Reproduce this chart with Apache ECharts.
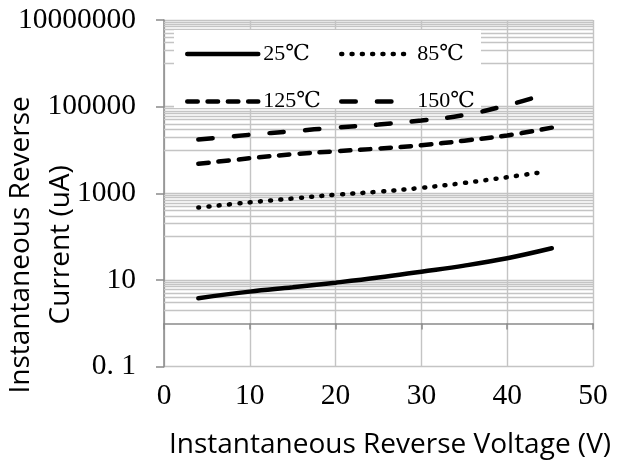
<!DOCTYPE html>
<html>
<head>
<meta charset="utf-8">
<script src="https://cdn.jsdelivr.net/npm/echarts@6/dist/echarts.min.js"></script>
<style>html,body{margin:0;padding:0;background:#fff}#c{width:622px;height:462px}</style>
</head>
<body>
<div id="c"></div>
<script>
const seriesNames = ['25℃', '85℃', '125℃', '150℃'];
const voltage25 = [4, 10, 15, 20, 25, 30, 35, 40, 45.2];
const current25 = [3.8, 5.4, 6.8, 8.7, 11.4, 15.6, 21.5, 31.8, 54];
const voltage85 = [4, 10, 15, 20, 25, 30, 35, 40, 44.5];
const current85 = [470, 620, 760, 930, 1090, 1340, 1740, 2360, 3160];
const voltage125 = [4, 10, 15, 20, 25, 30, 35, 40, 45.2];
const current125 = [4800, 6450, 8000, 9350, 10800, 12900, 16400, 21700, 32800];
const voltage150 = [4, 10, 15, 20, 25, 30, 35, 40, 43.2];
const current150 = [17500, 22500, 27100, 33000, 38800, 48000, 64000, 108000, 163000];
const xTicks = [0, 10, 20, 30, 40, 50];
const yMajorTicks = [0.1, 10, 1000, 100000, 10000000];
const yMinorGrid = [2, 3, 4, 5, 6, 7, 8, 9,
  100, 200, 300, 400, 500, 600, 700, 800, 900,
  10000, 20000, 30000, 40000, 50000, 60000, 70000, 80000, 90000,
  1000000, 2000000, 3000000, 4000000, 5000000, 6000000, 7000000, 8000000, 9000000];

function pairs(xs, ys) { return xs.map((x, i) => [x, ys[i]]); }

const SERIF = '"Liberation Serif", "DejaVu Serif", "Noto Sans CJK JP", serif';
const SANS = '"Open Sans", "Noto Sans", sans-serif';
const GRID = '#c4c4c4';
const legendCommon = {
  orient: 'vertical', top: 43, padding: 0, itemWidth: 71, itemHeight: 14, itemGap: 25.5,
  itemStyle: {color: 'rgba(0,0,0,0)', borderColor: 'rgba(0,0,0,0)', borderWidth: 0, opacity: 0},
  lineStyle: {width: 4.5},
  textStyle: {fontFamily: SERIF, fontSize: 22, color: '#000'}
};

const chart = echarts.init(document.getElementById('c'), null, {renderer: 'canvas'});
chart.setOption({
  animation: false,
  backgroundColor: '#fff',
  grid: [
    {left: 164, right: 29, top: 20, bottom: 95.3, outerBoundsMode: 'none', containLabel: false},
    {left: 164, right: 29, top: 20, bottom: 138.6, outerBoundsMode: 'none', containLabel: false}
  ],
  xAxis: [{
    type: 'value', gridIndex: 0, min: xTicks[0], max: xTicks[xTicks.length - 1], interval: 10,
    axisLine: {show: false}, axisTick: {show: false},
    axisLabel: {fontFamily: SERIF, fontSize: 29.5, color: '#000', margin: 15},
    splitLine: {show: true, lineStyle: {color: GRID, width: 1.4}},
    name: 'Instantaneous Reverse Voltage (V)', nameLocation: 'middle', nameGap: 64, nameMoveOverlap: false,
    nameTextStyle: {fontFamily: SANS, fontSize: 28, color: '#000', padding: [0, 0, 0, 23]}
  }, {
    type: 'value', gridIndex: 1, min: 0, max: 50, interval: 10,
    axisLine: {show: true, lineStyle: {color: '#8a8a8a', width: 1.5}},
    axisTick: {show: true, length: 6, lineStyle: {color: '#8a8a8a', width: 1.5}},
    axisLabel: {show: false}, splitLine: {show: false}
  }],
  yAxis: [{
    type: 'log', gridIndex: 0, logBase: 10, min: 0.1, max: 10000000, interval: 2,
    axisLine: {show: true, lineStyle: {color: '#8a8a8a', width: 1.5}},
    axisTick: {show: true, length: 8, lineStyle: {color: '#8a8a8a', width: 1.5}},
    axisLabel: {fontFamily: SERIF, fontSize: 29.5, color: '#000', margin: 28,
      formatter: v => (v < 1 ? '0. 1' : String(Math.round(v)))},
    splitLine: {show: true, lineStyle: {color: GRID, width: 1.4}},
    name: 'Instantaneous Reverse\nCurrent (uA)', nameLocation: 'middle', nameRotate: 90, nameGap: 83,
    nameMoveOverlap: false,
    nameTextStyle: {fontFamily: SANS, fontSize: 28, color: '#000', lineHeight: 40, align: 'center', padding: [0, 103, 0, 0]}
  }, {
    type: 'value', gridIndex: 1, show: false, min: 0, max: 1
  }],
  legend: [
    Object.assign({left: 185, data: [seriesNames[0], seriesNames[2]]}, legendCommon),
    Object.assign({left: 339, data: [seriesNames[1], seriesNames[3]]}, legendCommon)
  ],
  graphic: [{
    type: 'rect', left: 174, top: 30, z: 3, silent: true,
    shape: {width: 307, height: 78}, style: {fill: '#fff'}
  }],
  series: [{
    type: 'line', name: 'grid', data: [], xAxisIndex: 0, yAxisIndex: 0, z: 1, silent: true,
    markLine: {
      silent: true, z: 1, symbol: ['none', 'none'], label: {show: false}, animation: false,
      lineStyle: {color: GRID, width: 1.4, type: 'solid'},
      emphasis: {disabled: true},
      data: yMinorGrid.map(v => ({yAxis: v}))
    }
  }, {
    type: 'line', name: seriesNames[0], data: pairs(voltage25, current25), smooth: 0.4,
    symbol: 'none', z: 4, color: '#000',
    lineStyle: {color: '#000', width: 4.5, type: 'solid', cap: 'round'}
  }, {
    type: 'line', name: seriesNames[1], data: pairs(voltage85, current85), smooth: 0.4,
    symbol: 'none', z: 4, color: '#000',
    lineStyle: {color: '#000', width: 4.5, type: [1, 9.3], cap: 'round'}
  }, {
    type: 'line', name: seriesNames[2], data: pairs(voltage125, current125), smooth: 0.4,
    symbol: 'none', z: 4, color: '#000',
    lineStyle: {color: '#000', width: 4.5, type: [10.5, 9.8], cap: 'round'}
  }, {
    type: 'line', name: seriesNames[3], data: pairs(voltage150, current150), smooth: 0.4,
    symbol: 'none', z: 4, color: '#000',
    lineStyle: {color: '#000', width: 4.5, type: [14.5, 21.2], cap: 'round'}
  }]
});
</script>
</body>
</html>
